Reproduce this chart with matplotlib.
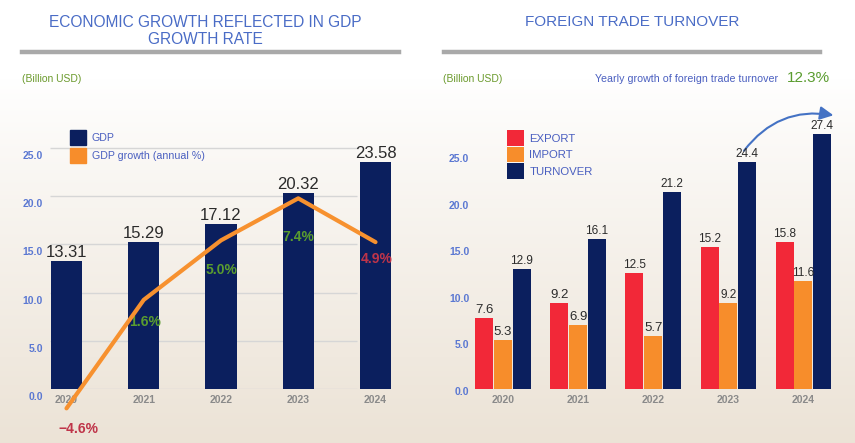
import matplotlib
matplotlib.use('Agg')
import matplotlib.pyplot as plt
import numpy as np
from matplotlib.patches import Patch
from matplotlib.lines import Line2D
from matplotlib.transforms import ScaledTranslation

# ---------------- data ----------------
years = ['2020', '2021', '2022', '2023', '2024']
gdp = [13.31, 15.29, 17.12, 20.32, 23.58]
gdp_growth = [-4.6, 1.6, 5.0, 7.4, 4.9]
export = [7.6, 9.2, 12.5, 15.2, 15.8]
imports = [5.3, 6.9, 5.7, 9.2, 11.6]
turnover = [12.9, 16.1, 21.2, 24.4, 27.4]
yticks = [0, 5, 10, 15, 20, 25]
trade_growth_label = '12.3%'

# ---------------- style ----------------
NAVY = '#0b1f5e'
ORANGE = '#f78d2b'
LINE_OR = '#f7912f'
RED = '#f22838'
BLUE_T = '#4a6cc6'
BLUE_L = '#4a5fc0'
BLUE_TK = '#5b78d2'
GREEN = '#6b9a2c'
GREEN_P = '#5a9c2f'
RED_P = '#bf3449'
DARK = '#2b2b2b'
FONT = ['Liberation Sans', 'DejaVu Sans']
NARROW = ['Liberation Sans Narrow', 'Liberation Sans', 'DejaVu Sans']
plt.rcParams['font.family'] = FONT

W, H = 855, 443
fig = plt.figure(figsize=(W / 100, H / 100), dpi=100)


def fx(px):
    return px / W


def fy(py):
    return 1 - py / H


# background gradient
bg = fig.add_axes([0, 0, 1, 1], zorder=-10)
t = np.linspace(0, 1, 300)[:, None]
g = np.clip((t - 0.18) / 0.82, 0, 1) ** 0.9
top = np.array([1.0, 1.0, 1.0])
bot = np.array([0.925, 0.890, 0.840])
img = top[None, None, :] * (1 - g[..., None]) + bot[None, None, :] * g[..., None]
img = np.repeat(img, 2, axis=1)
bg.imshow(img, aspect='auto', extent=[0, 1, 0, 1])
bg.axis('off')

# titles and rules
fig.text(fx(205), fy(31), 'ECONOMIC GROWTH REFLECTED IN GDP\nGROWTH RATE', ha='center',
         va='center', fontsize=11.2, color=BLUE_T, linespacing=1.1)
fig.text(fx(632), fy(22), 'FOREIGN TRADE TURNOVER', ha='center', va='center',
         fontsize=11, color=BLUE_T)
for x0, x1 in [(22, 399), (444, 820)]:
    fig.add_artist(Line2D([fx(x0), fx(x1)], [fy(52), fy(52)], color='#a9a9a9', lw=3.2,
                          transform=fig.transFigure))
fig.text(fx(22), fy(79), '(Billion USD)', ha='left', va='center', fontsize=7.5, color=GREEN)
fig.text(fx(443), fy(79), '(Billion USD)', ha='left', va='center', fontsize=7.5, color=GREEN)
fig.text(fx(595), fy(79), 'Yearly growth of foreign trade turnover', ha='left', va='center',
         fontsize=7.7, color=BLUE_L)
fig.text(fx(787), fy(78), trade_growth_label, ha='left', va='center', fontsize=11, color=GREEN_P)


def style_axes(ax, shift_px, ypad):
    for s in ax.spines.values():
        s.set_visible(False)
    ax.set_yticks(yticks)
    ax.set_yticklabels([f'{v:.1f}' for v in yticks])
    ax.tick_params(axis='y', length=0, labelsize=7.5, labelcolor=BLUE_TK, pad=ypad)
    ax.tick_params(axis='x', length=0, labelsize=7.5, labelcolor='#8a8a8a', pad=4)
    for lab in ax.get_yticklabels():
        lab.set_fontweight('bold')
        lab.set_transform(lab.get_transform() +
                          ScaledTranslation(0, -shift_px / 100, fig.dpi_scale_trans))
    for lab in ax.get_xticklabels():
        lab.set_fontweight('bold')


# ---------------- left chart ----------------
x = np.arange(len(years))
axL = fig.add_axes([fx(50), fy(389), 345 / W, 279 / H])
axL.set_xlim(-16.5 / 77.25, (395 - 66.5) / 77.25)
axL.set_ylim(0, 279 / 9.64)
axL.patch.set_alpha(0)
axL.hlines(yticks, -16.5 / 77.25, 3.76, color='#d6d6d6', lw=1, zorder=1)
barsL = axL.bar(x, gdp, width=0.405, color=NAVY, zorder=3)
for xi, v in zip(x, gdp):
    axL.annotate(f'{v:.2f}', (xi, v), xytext=(0, 0.5), textcoords='offset points',
                 ha='center', va='bottom', fontsize=12, color=DARK, zorder=5)
axL.set_xticks(x)
axL.set_xticklabels(years)
style_axes(axL, 7, 5)

ax2 = axL.twinx()
ax2.set_ylim(-61.15 / 17.5, (279 - 61.15) / 17.5)
ax2.axis('off')
ax2.plot(x, gdp_growth, color=LINE_OR, lw=3, clip_on=False, solid_capstyle='round',
         solid_joinstyle='round', zorder=4)
g_offsets = [(8.6, -15), (0.7, -16), (0.7, -21.6), (0, -28), (1, -12)]
g_colors = [RED_P, GREEN_P, GREEN_P, GREEN_P, RED_P]
for xi, v, off, c in zip(x, gdp_growth, g_offsets, g_colors):
    lab = f'{v:.1f}%'.replace('-', '\u2212')
    ax2.annotate(lab, (xi, v), xytext=off, textcoords='offset points', ha='center',
                 va='center', fontsize=10, fontweight='bold', color=c, annotation_clip=False)

axL.legend(handles=[Patch(color=NAVY, label='GDP'),
                    Patch(color=ORANGE, label='GDP growth (annual %)')],
           loc='upper left', bbox_to_anchor=(fx(70), fy(130)),
           bbox_transform=fig.transFigure, frameon=False, fontsize=7.7,
           handlelength=1.5, handleheight=1.8, handletextpad=0.55,
           labelspacing=0.3, borderpad=0, borderaxespad=0, labelcolor=BLUE_L)

# ---------------- right chart ----------------
axR = fig.add_axes([fx(472), fy(389), 373 / W, 279 / H])
axR.set_xlim((472 - 503) / 75.1, (845 - 503) / 75.1)
axR.set_ylim(0, 279 / 9.31)
axR.patch.set_alpha(0)
bw, off = 0.24, 0.25
axR.bar(x - off, export, width=bw, color=RED, zorder=3, label='EXPORT')
axR.bar(x, imports, width=bw, color=ORANGE, zorder=3, label='IMPORT')
axR.bar(x + off, turnover, width=bw, color=NAVY, zorder=3, label='TURNOVER')
big_labels = {('e', 0), ('i', 0), ('e', 1), ('i', 1), ('i', 2)}
for key, dx, vals in [('e', -off, export), ('i', 0, imports), ('t', off, turnover)]:
    for i, v in enumerate(vals):
        big = (key, i) in big_labels
        axR.annotate(f'{v:.1f}', (i + dx, v), xytext=(0, 1.5), textcoords='offset points',
                     ha='center', va='bottom', fontsize=9.5 if big else 8.5,
                     family=FONT if big else NARROW, color=DARK, zorder=5)
axR.set_xticks(x)
axR.set_xticklabels(years)
style_axes(axR, 2, 2)

axR.annotate('', xy=(4.40, 29.4), xytext=(3.21, 25.6),
             arrowprops=dict(arrowstyle='-|>,head_length=0.8,head_width=0.4',
                             connectionstyle='arc3,rad=-0.3', color='#4472c4', lw=1.5,
                             shrinkA=0, shrinkB=0),
             annotation_clip=False)

axR.legend(loc='upper left', bbox_to_anchor=(fx(507), fy(130)),
           bbox_transform=fig.transFigure, frameon=False, fontsize=8.2,
           handlelength=1.45, handleheight=1.75, handletextpad=0.5,
           labelspacing=0.08, borderpad=0, borderaxespad=0, labelcolor=BLUE_L)

fig.savefig('out.png', dpi=100)
